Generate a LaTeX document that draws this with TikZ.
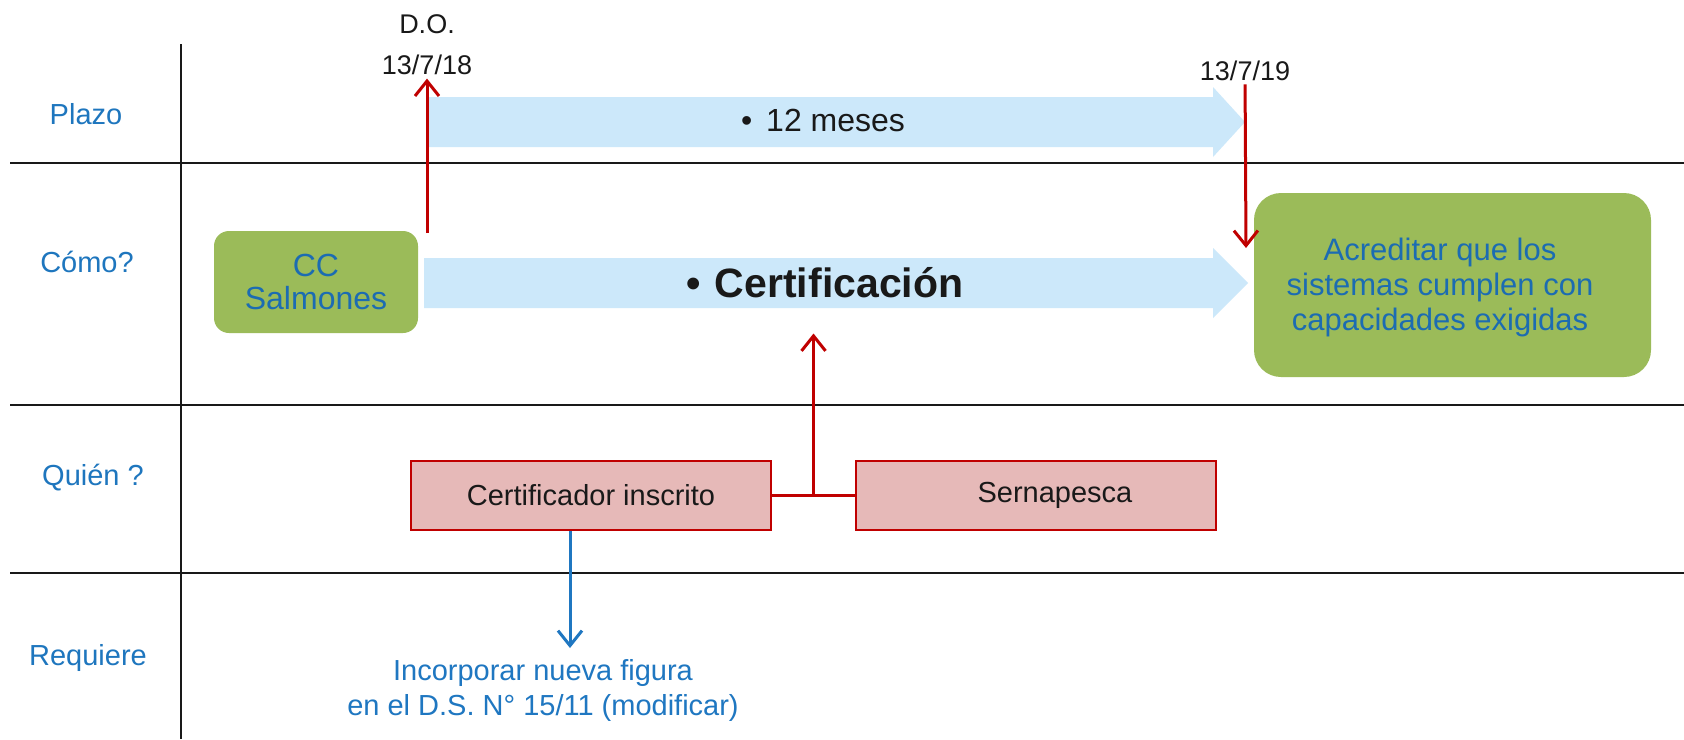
\documentclass[tikz,border=0pt]{standalone}
\usepackage{fontspec}
\setmainfont{Liberation Sans}
\usetikzlibrary{arrows.meta,calc}
\definecolor{lblue}{RGB}{30,118,190}
\definecolor{abl}{RGB}{204,232,250}
\definecolor{grn}{RGB}{155,187,89}
\definecolor{gtext}{RGB}{28,108,178}
\definecolor{pnk}{RGB}{230,185,184}
\definecolor{rd}{RGB}{192,0,0}
\definecolor{dblue}{RGB}{31,119,193}
\definecolor{ink}{RGB}{25,25,25}
\newcommand{\fsz}[2]{\fontsize{#1}{#2}\selectfont}
\begin{document}
\begin{tikzpicture}[x=1pt,y=-1pt,
  gridline/.style={line width=2.8pt,ink},
  lbl/.style={text=lblue,font=\fsz{29}{34}},
  datetxt/.style={text=ink,font=\fsz{27}{41},align=center},
  blockarrow/.style={fill=abl},
  greenbox/.style={fill=grn,rounded corners=#1},
  pinkbox/.style={fill=pnk,draw=rd,line width=2pt,minimum width=360pt,minimum height=69pt,font=\fsz{29}{34},text=ink,inner sep=0pt},
  redarrow/.style={draw=rd,line width=3pt,-{Straight Barb[length=15pt,width=24pt]}},
  redline/.style={draw=rd,line width=3pt},
  bluearrow/.style={draw=dblue,line width=3pt,-{Straight Barb[length=15pt,width=24pt]}},
]
\useasboundingbox (0,0) rectangle (1684,739);
\fill[white] (0,0) rectangle (1684,739);

% grid
\draw[gridline] (181,44) -- (181,739);
\draw[gridline] (10,163) -- (1684,163);
\draw[gridline] (10,405) -- (1684,405);
\draw[gridline] (10,573) -- (1684,573);

% row labels
\node[lbl] (plazo) at (86,114) {Plazo};
\node[lbl] (como) at (87,262) {Cómo?};
\node[lbl] (quien) at (93,478) {Quién ?};
\node[lbl] (req) at (88,658) {Requiere};

% block arrows
\fill[blockarrow] (428,97) -- (1213,97) -- (1213,87) -- (1245,122) -- (1213,157) -- (1213,147) -- (428,147) -- cycle;
\fill[blockarrow] (424,258) -- (1213,258) -- (1213,248) -- (1248,283) -- (1213,318) -- (1213,308) -- (424,308) -- cycle;
\node[text=ink,font=\fsz{32}{36}] (meses) at (823,120) {•\hspace{14pt}12 meses};
\node[text=ink,font=\fsz{41}{46}\bfseries] (certif) at (825,283) {•\hspace{14pt}Certificación};

% green boxes
\node[greenbox=15pt,minimum width=204pt,minimum height=102pt,text=gtext,font=\fsz{32}{33},align=center] (cc) at (316,282) {CC\\Salmones};
\node[greenbox=27pt,minimum width=397pt,minimum height=184pt] (gbox) at (1452.5,285) {};
\node[text=gtext,font=\fsz{31}{35},align=center] (gtxt) at (1440,287) {Acreditar que los\\sistemas cumplen con\\capacidades exigidas};

% dates
\node[datetxt] (do) at (427,45) {D.O.\\13/7/18};
\node[datetxt] (d2) at (1245,71) {13/7/19};
\coordinate (a1s) at (427,233);
\coordinate (a2e) at (1246,248);
\draw[redarrow] (a1s) -- (do);
\draw[redarrow] (d2) -- (a2e);

% who
\node[pinkbox] (cert) at (591,495.5) {Certificador inscrito\hspace{42pt}};
\node[pinkbox] (sern) at (1036,495.5) {\hspace{38pt}Sernapesca};
\draw[redline] (cert) -- (sern);
\coordinate (jn) at ($(cert.east)!0.5!(sern.west)$);
\coordinate (a3e) at ($(jn)+(0,-162)$);
\draw[redarrow] (jn) -- (a3e);

% requires
\coordinate (bs) at ([xshift=-21pt]cert.south);
\coordinate (be) at ([xshift=-21pt,yshift=-117pt]cert.south);
\draw[bluearrow] (bs) -- (be);
\node[text=dblue,font=\fsz{29}{35},align=center] (inc) at (543,690) {Incorporar nueva figura\\en el D.S. N° 15/11 (modificar)};
\end{tikzpicture}
\end{document}
